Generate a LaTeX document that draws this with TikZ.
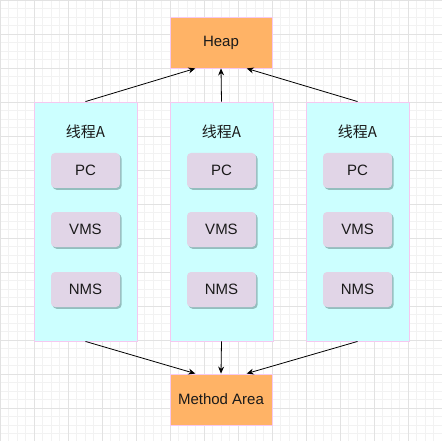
\documentclass[tikz,border=0pt]{standalone}
\usepackage{fontspec}
\setmainfont{Liberation Sans}
\newfontfamily\cjk{Noto Sans CJK SC}
\usetikzlibrary{calc,shadows,arrows.meta}
\definecolor{gminor}{HTML}{F2F2F2}
\definecolor{gmajor}{HTML}{E2E2E2}
\definecolor{heapc}{HTML}{FFB366}
\definecolor{threadc}{HTML}{CCFFFF}
\definecolor{pinkb}{HTML}{F5C8F0}
\definecolor{innerc}{HTML}{E1D5E7}
\definecolor{innersh}{HTML}{8FB8B8}
\definecolor{txt}{HTML}{1A1A1A}
\tikzset{
  area/.style={draw=pinkb, line width=0.9pt, fill=heapc, minimum width=102pt, minimum height=51pt, inner sep=0pt, font=\fontsize{15}{18}\selectfont, text=txt,
    drop shadow={shadow xshift=1.2pt, shadow yshift=-1.2pt, fill=black, opacity=0.15}},
  thread/.style={draw=pinkb, line width=0.9pt, fill=threadc, minimum width=103pt, minimum height=239pt, inner sep=0pt,
    drop shadow={shadow xshift=1.2pt, shadow yshift=-1.2pt, fill=black, opacity=0.15}},
  inner/.style={fill=innerc, rounded corners=4pt, minimum width=69pt, minimum height=35pt, inner sep=0pt, font=\fontsize{15}{18}\selectfont, text=txt,
    drop shadow={shadow xshift=1.6pt, shadow yshift=-1.8pt, fill=innersh, opacity=0.9}},
  lbl/.style={font=\cjk\fontsize{15}{18}\selectfont, text=txt, inner sep=0pt},
  conn/.style={draw=black, line width=0.8pt, -{Stealth[length=7pt, width=6pt]}},
}
\begin{document}
\begin{tikzpicture}[x=1pt, y=-1pt]
\useasboundingbox (0,0) rectangle (442,441);
\fill[white] (0,0) rectangle (442,441);
\foreach \i in {0,...,52} {
  \draw[gminor, line width=0.6pt] (\i*8.5,0) -- (\i*8.5,441);
  \draw[gminor, line width=0.6pt] (0,\i*8.5) -- (442,\i*8.5);
}
\foreach \i in {0,...,13} {
  \draw[gmajor, line width=0.8pt] (\i*34,0) -- (\i*34,441);
  \draw[gmajor, line width=0.8pt] (0,\i*34) -- (442,\i*34);
}
\node[area] (heap) at (221,42.5) {Heap};
\node[area] (method) at (221,399.5) {Method Area};
\foreach \n/\x in {t1/85.5, t2/221.5, t3/357.5} {
  \node[thread] (\n) at (\x,221.5) {};
  \node[lbl] (\n l) at (\x,132) {线程A};
  \node[inner] (\n pc) at (\x,170.5) {PC};
  \node[inner] (\n vms) at (\x,229.5) {VMS};
  \node[inner] (\n nms) at (\x,289.5) {NMS};
}
\coordinate (h1) at ($(heap.south west)!0.25!(heap.south east)$);
\coordinate (h2) at (heap.south);
\coordinate (h3) at ($(heap.south west)!0.75!(heap.south east)$);
\coordinate (m1) at ($(method.north west)!0.25!(method.north east)$);
\coordinate (m2) at (method.north);
\coordinate (m3) at ($(method.north west)!0.75!(method.north east)$);
\draw[conn] (t1.north) -- (h1);
\draw[conn] (t2.north) -- (h2);
\draw[conn] (t3.north) -- (h3);
\draw[conn] (t1.south) -- (m1);
\draw[conn] (t2.south) -- (m2);
\draw[conn] (t3.south) -- (m3);
\end{tikzpicture}
\end{document}
